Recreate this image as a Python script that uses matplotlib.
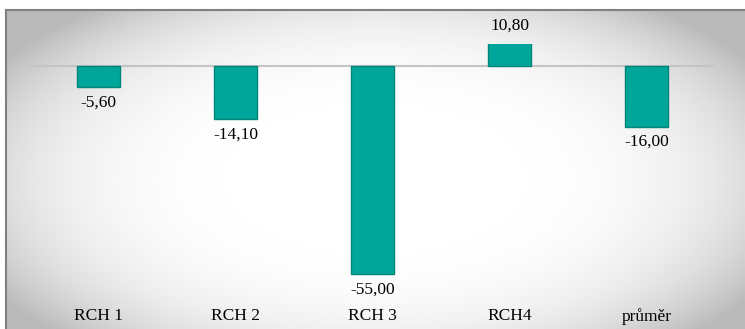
import numpy as np
import matplotlib
matplotlib.use("Agg")
import matplotlib.pyplot as plt

# data
categories = ["RCH 1", "RCH 2", "RCH 3", "RCH4", "průměr"]
values = [-5.60, -14.10, -55.00, 10.80, -16.00]
labels = ["-5,60", "-14,10", "-55,00", "10,80", "-16,00"]

W, H = 745, 329
plt.rcParams['font.family'] = ['Liberation Serif', 'DejaVu Serif']

fig = plt.figure(figsize=(W / 100, H / 100), dpi=100)

# background: framed panel with a soft radial gradient
bg = fig.add_axes([0, 0, 1, 1], zorder=0)
bg.set_xlim(0, W)
bg.set_ylim(H, 0)
bg.axis("off")
x0, y0 = 6, 10
xx, yy = np.meshgrid(np.linspace(x0, W, 400), np.linspace(y0, H, 200))
cx, cy = (x0 + W) / 2, (y0 + H) / 2 + 10
r = np.sqrt(((xx - cx) / ((W - x0) / 2)) ** 2 + ((yy - cy) / ((H - y0) / 2 + 25)) ** 2)
shade = 1 - 0.13 * np.clip(r, 0, 1.2) ** 4
bg.imshow(shade, cmap="gray", vmin=0, vmax=1, extent=[x0, W, H, y0],
          aspect="auto", interpolation="bilinear")
bg.plot([x0, W], [y0, y0], color="#808080", lw=1.5)
bg.plot([x0, x0], [y0, H], color="#808080", lw=1.5)

# plot area: zero line y=66 px, 3.8 px per unit
ax = fig.add_axes([30 / W, 1 - 298 / H, 685 / W, 254 / H], zorder=2)
ax.patch.set_alpha(0)
xpos = np.arange(len(categories))
ax.bar(xpos, values, width=0.31, color="#00a699", edgecolor="#00857a", lw=1.0, zorder=3)
ax.axhline(0, color="#c4c4c4", lw=1.5, zorder=2)
ax.set_xlim(-0.5, len(categories) - 0.5)
ax.set_ylim(-61.3, 5.8)

fs = 12.5
for xp, v, lab in zip(xpos, values, labels):
    if v < 0:
        ax.annotate(lab, (xp, v), xytext=(0, -15), textcoords="offset pixels",
                    ha="center", va="center", fontsize=fs, annotation_clip=False)
    else:
        ax.annotate(lab, (xp, 5.8), xytext=(0, 18), textcoords="offset pixels",
                    ha="center", va="center", fontsize=fs, annotation_clip=False)

ax.set_xticks(xpos)
ax.set_xticklabels(categories, fontsize=fs)
ax.tick_params(axis="x", length=0, pad=7)
ax.set_yticks([])
for s in ax.spines.values():
    s.set_visible(False)

fig.savefig("out.png", dpi=100)
